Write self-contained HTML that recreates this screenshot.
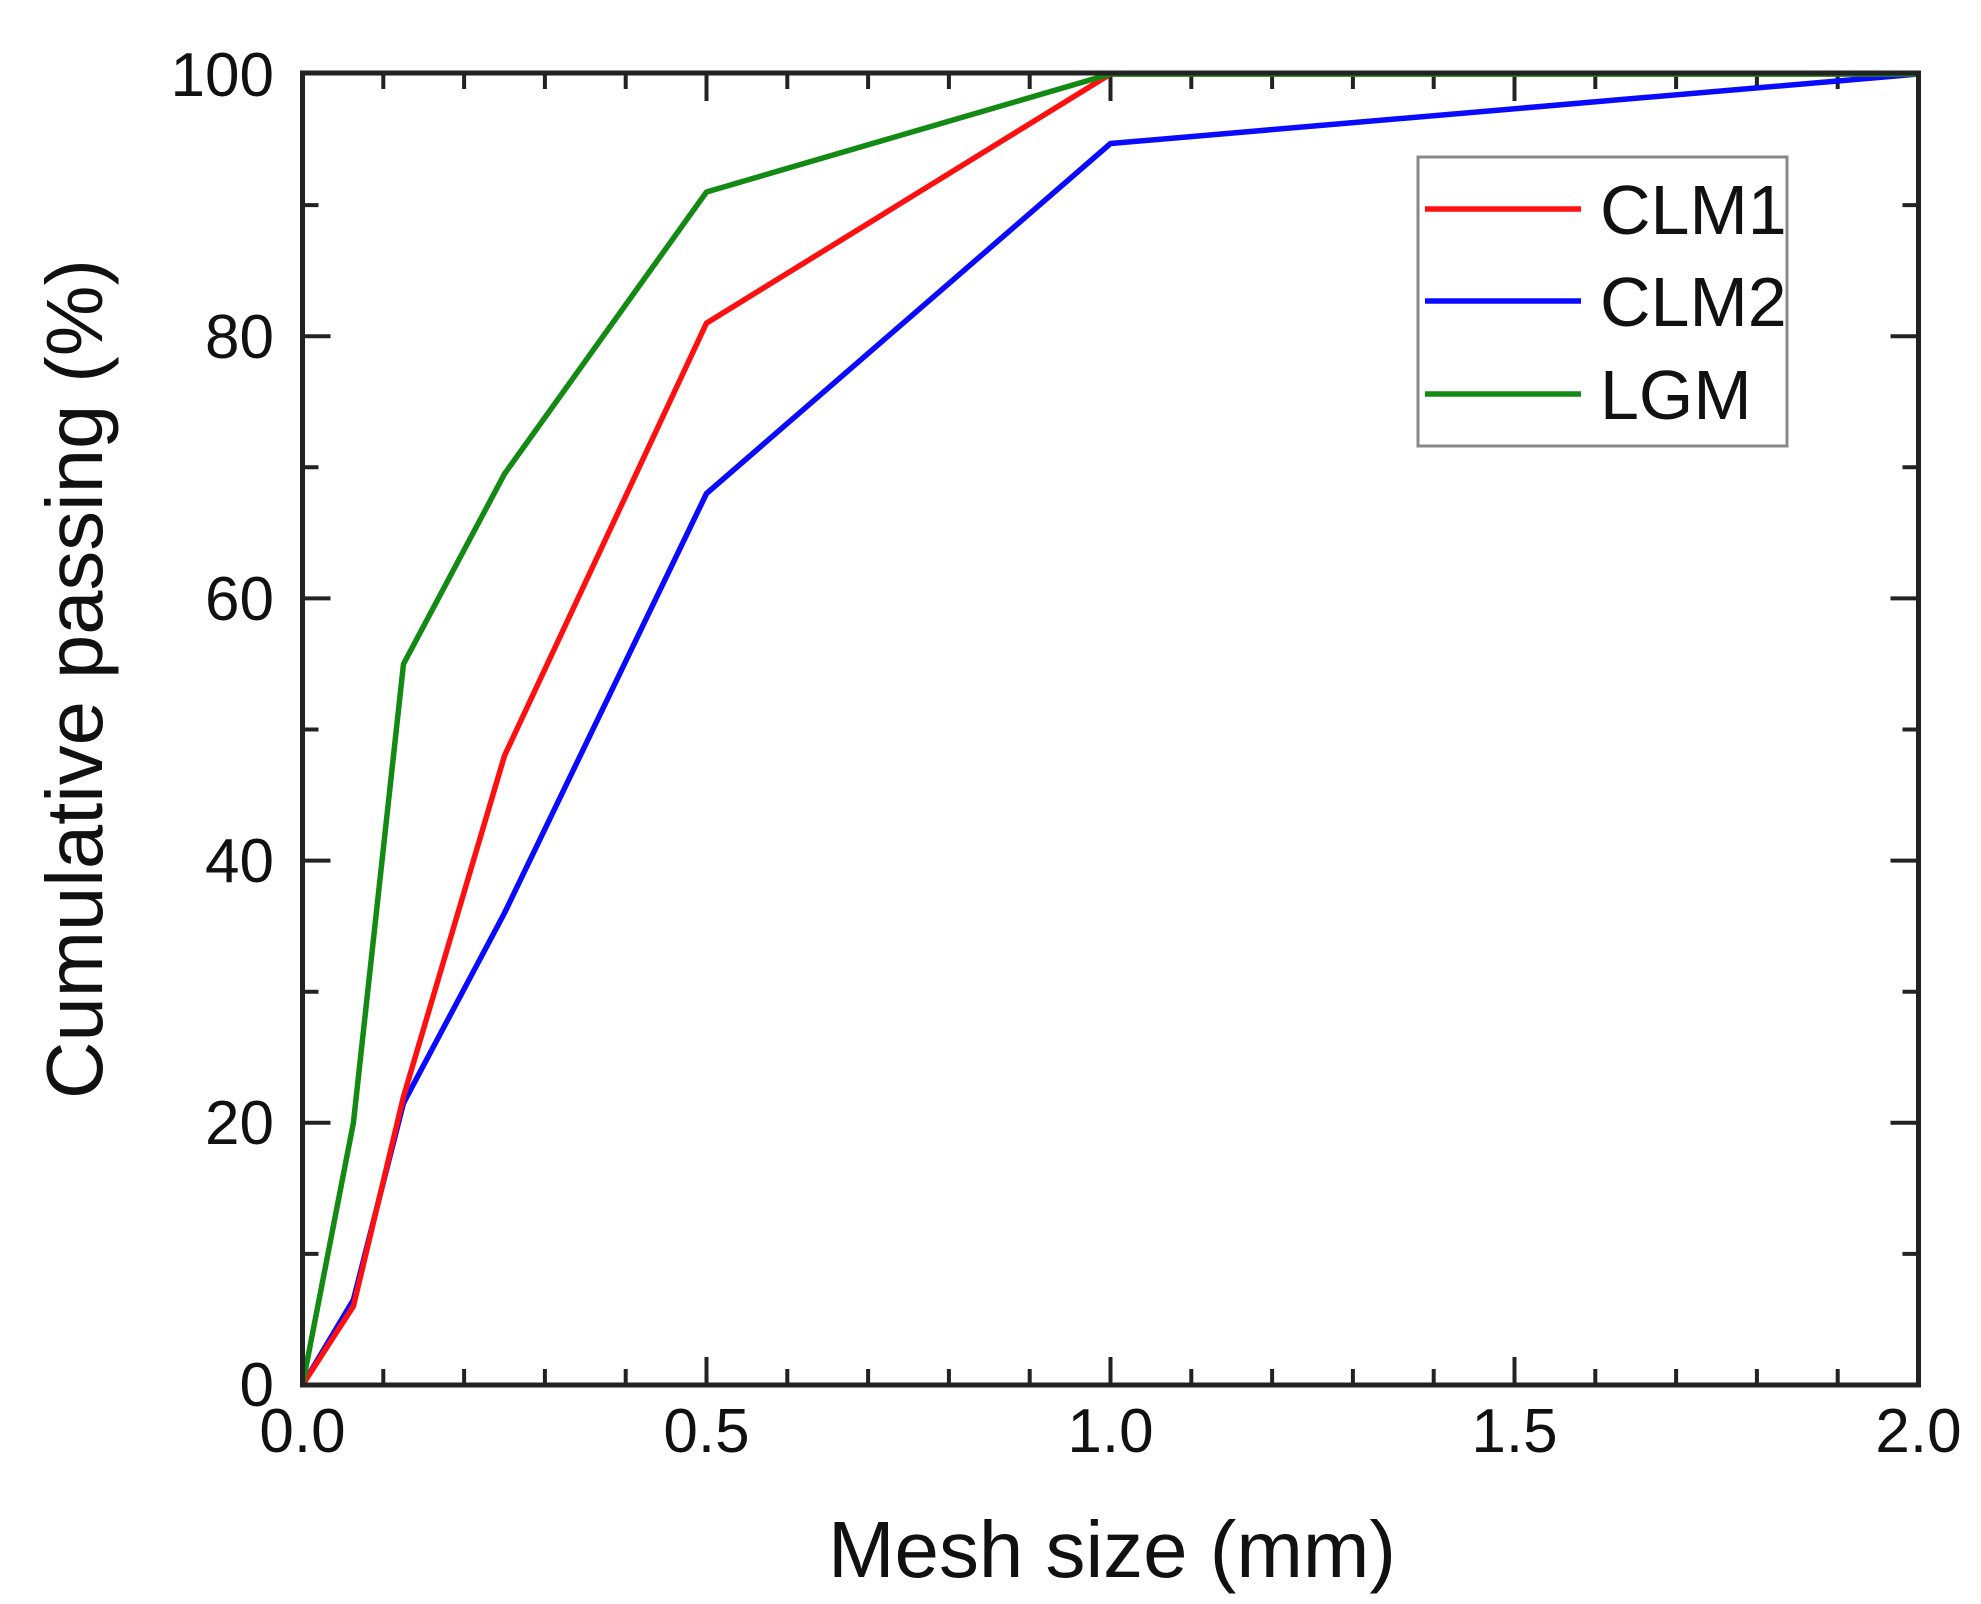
<!DOCTYPE html>
<html><head><meta charset="utf-8"><style>html,body{margin:0;padding:0;background:#fff}svg{display:block}</style></head>
<body>
<svg width="1981" height="1604" viewBox="0 0 1981 1604" xmlns="http://www.w3.org/2000/svg" font-family="Liberation Sans, Arial, sans-serif">
<rect width="1981" height="1604" fill="#fff"/>
<g stroke="#222" stroke-width="4">
<path d="M383.3 1385v-16M464.1 1385v-16M544.9 1385v-16M625.7 1385v-16M706.5 1385v-28M787.3 1385v-16M868.1 1385v-16M948.9 1385v-16M1029.7 1385v-16M1110.5 1385v-28M1191.3 1385v-16M1272.1 1385v-16M1352.9 1385v-16M1433.7 1385v-16M1514.5 1385v-28M1595.3 1385v-16M1676.1 1385v-16M1756.9 1385v-16M1837.7 1385v-16"/>
<path d="M383.3 73v16M464.1 73v16M544.9 73v16M625.7 73v16M706.5 73v28M787.3 73v16M868.1 73v16M948.9 73v16M1029.7 73v16M1110.5 73v28M1191.3 73v16M1272.1 73v16M1352.9 73v16M1433.7 73v16M1514.5 73v28M1595.3 73v16M1676.1 73v16M1756.9 73v16M1837.7 73v16"/>
<path d="M302.5 1253.9h16M302.5 1122.8h28M302.5 991.7h16M302.5 860.6h28M302.5 729.5h16M302.5 598.4h28M302.5 467.3h16M302.5 336.2h28M302.5 205.1h16"/>
<path d="M1918.5 1253.9h-16M1918.5 1122.8h-28M1918.5 991.7h-16M1918.5 860.6h-28M1918.5 729.5h-16M1918.5 598.4h-28M1918.5 467.3h-16M1918.5 336.2h-28M1918.5 205.1h-16"/>
</g>
<g fill="none" stroke-width="5.5" stroke-linejoin="round">
<polyline stroke="#0a0aff" points="302.5,1385 353.4,1299.8 403.5,1103.1 504.5,913.0 706.5,493.5 1110.5,143.5 1918.5,74"/>
<polyline stroke="#ff1010" points="302.5,1385 353.4,1306.3 403.5,1096.6 504.5,755.7 706.5,323.1 1110.5,74 1918.5,74"/>
<polyline stroke="#138a13" points="302.5,1385 353.4,1122.8 403.5,664.0 504.5,473.9 706.5,192.0 1110.5,74 1918.5,74"/>
</g>
<rect x="302.5" y="73" width="1616" height="1312" fill="none" stroke="#222" stroke-width="5"/>
<rect x="1418" y="157" width="369" height="289" fill="#fff" stroke="#888" stroke-width="3"/>
<g stroke-width="5.5"><path d="M1425 209h156" stroke="#ff1010"/><path d="M1425 301h156" stroke="#0a0aff"/><path d="M1425 394h156" stroke="#138a13"/></g>
<g font-size="70" fill="#111">
<text x="1600" y="234">CLM1</text><text x="1600" y="326">CLM2</text><text x="1600" y="419">LGM</text>
</g>
<g font-size="62" fill="#111" text-anchor="end">
<text x="274" y="1406">0</text><text x="274" y="1144">20</text><text x="274" y="882">40</text><text x="274" y="620">60</text><text x="274" y="358">80</text><text x="274" y="96">100</text>
</g>
<g font-size="62" fill="#111" text-anchor="middle">
<text x="302.5" y="1452">0.0</text><text x="706.5" y="1452">0.5</text><text x="1110.5" y="1452">1.0</text><text x="1514.5" y="1452">1.5</text><text x="1918.5" y="1452">2.0</text>
</g>
<text x="1112" y="1577" font-size="80" text-anchor="middle" fill="#111" textLength="568" lengthAdjust="spacingAndGlyphs">Mesh size (mm)</text>
<text transform="translate(102,679) rotate(-90)" font-size="80" text-anchor="middle" fill="#111" textLength="840" lengthAdjust="spacingAndGlyphs">Cumulative passing (%)</text>
</svg>
</body></html>
